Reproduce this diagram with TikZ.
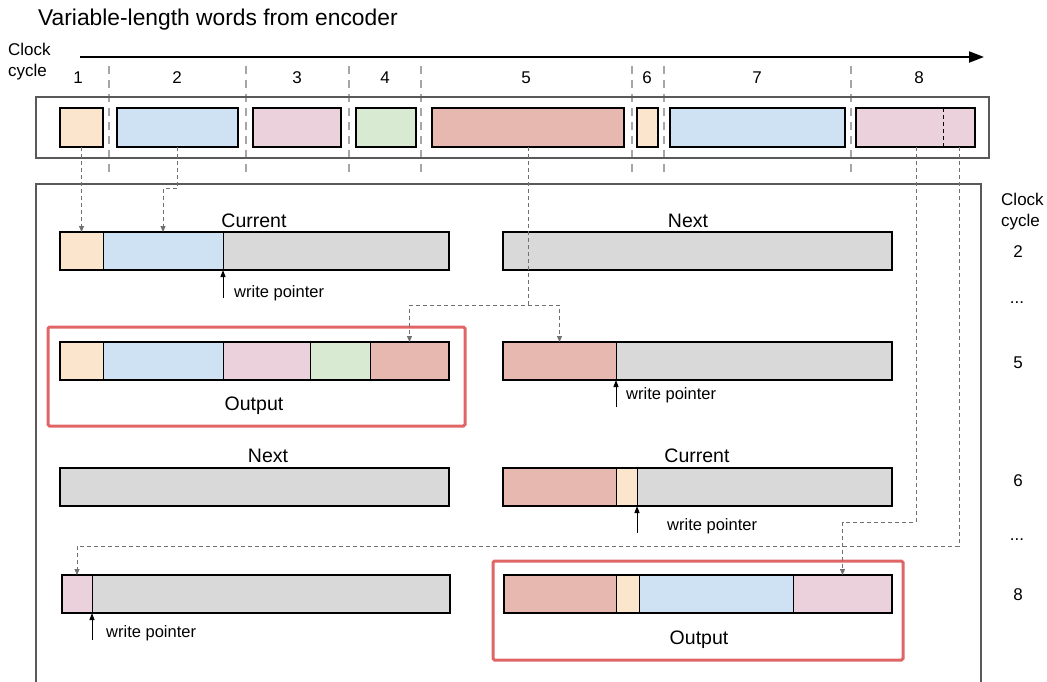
\documentclass[tikz,border=0pt]{standalone}
\usepackage{fontspec}
\setmainfont{Liberation Sans}
\usetikzlibrary{arrows.meta,calc}

\definecolor{cOrange}{HTML}{FCE5CD}
\definecolor{cBlue}{HTML}{CFE2F3}
\definecolor{cPink}{HTML}{EAD1DC}
\definecolor{cGreen}{HTML}{D9EAD3}
\definecolor{cRed}{HTML}{E6B8AF}
\definecolor{cGray}{HTML}{D9D9D9}
\definecolor{cFrame}{HTML}{595959}
\definecolor{cSep}{HTML}{A6A6A6}
\definecolor{cConn}{HTML}{707070}
\definecolor{cOut}{HTML}{E06666}

% word box of the input stream: name, x-left, x-right, fill
\newcommand\wordbox[4]{\node[word, fill=#4, minimum width={#3-#2}] (#1) at (#2,108) {};}
% buffer cell: name, x-left, x-right, y-top, fill
\newcommand\bufcell[5]{\node[cell, fill=#5, minimum width={#3-#2}] (#1) at (#2,#4) {};}
% thick outline over a whole buffer: name, x-left, x-right, y-top
\newcommand\bufframe[4]{\node[bframe, minimum width={#3-#2}] (#1) at (#2,#4) {};}

\begin{document}
\begin{tikzpicture}[x=1pt,y=-1pt,
  word/.style={draw=black, line width=2pt, inner sep=0, outer sep=0, minimum height=39, anchor=north west},
  cell/.style={draw=black, line width=1pt, inner sep=0, outer sep=0, minimum height=38, anchor=north west},
  bframe/.style={draw=black, line width=2pt, inner sep=0, outer sep=0, minimum height=38, anchor=north west},
  outframe/.style={draw=cOut, line width=3pt, rounded corners=1.5pt, inner sep=0, outer sep=0, anchor=north west},
  sep/.style={draw=cSep, line width=1.6pt, dash pattern=on 8pt off 6pt},
  conn/.style={draw=cConn, line width=1pt, dash pattern=on 4pt off 3pt, -{Triangle[length=6pt,width=5pt]}},
  ptr/.style={draw=black, line width=1pt, -{Triangle[length=7pt,width=5pt]}},
  title/.style={inner sep=0, font=\fontsize{22.8}{27}\selectfont, anchor=base west},
  small/.style={inner sep=0, font=\fontsize{17}{20}\selectfont},
  label/.style={inner sep=0, font=\fontsize{19.5}{23}\selectfont, anchor=base},
  wp/.style={inner sep=0, font=\fontsize{16.5}{19}\selectfont, anchor=base west},
]
\useasboundingbox (0,0) rectangle (1047,681);

% ---------- header ----------
\node[title] (ttl) at (38,25) {Variable-length words from encoder};
\node[small, anchor=base west] (clk1) at (8,55) {Clock};
\node[small, anchor=base west] (cyc1) at (8,76) {cycle};
\coordinate (tstart) at (80,57);
\coordinate (tend) at (984,57);
\draw[line width=2pt, -{Triangle[length=15pt,width=11pt]}] (tstart) -- (tend);

\foreach \n/\x in {1/78,2/177,3/297,4/385,5/526,6/647,7/757,8/919}
  \node[small, anchor=base] (cc\n) at (\x,83) {\n};

% cycle boundaries
\foreach \x in {109,246,349,421,632,664,851}
  \draw[sep] (\x,66) -- (\x,172);

% ---------- input stream ----------
\node[draw=cFrame, line width=2pt, inner sep=0, outer sep=0, anchor=north west,
      minimum width=953, minimum height=61] (stream) at (36,97) {};
\wordbox{w1}{60}{103}{cOrange}
\wordbox{w2}{117}{238}{cBlue}
\wordbox{w3}{253}{341}{cPink}
\wordbox{w4}{356}{416}{cGreen}
\wordbox{w5}{432}{624}{cRed}
\wordbox{w6}{637}{658}{cOrange}
\wordbox{w7}{670}{845}{cBlue}
\wordbox{w8}{856}{975}{cPink}
\draw[black, line width=1pt, dash pattern=on 4pt off 3pt] (943,108) -- (943,147);
\coordinate (w8a) at ($(w8.south west)+(60,0)$);
\coordinate (w8b) at ($(w8.south east)+(-16,0)$);

% ---------- buffer area ----------
\draw[draw=cFrame, line width=2pt] (36,690) -- (36,184) -- (981,184) -- (981,690);

\node[small, anchor=base west] (clk2) at (1001,205) {Clock};
\node[small, anchor=base west] (cyc2) at (1001,226) {cycle};
\node[small, anchor=base] (rc2) at (1018,257) {2};
\node[small, anchor=base] (rd1) at (1017,303) {...};
\node[small, anchor=base] (rc5) at (1018,368) {5};
\node[small, anchor=base] (rc6) at (1018,486) {6};
\node[small, anchor=base] (rd2) at (1017,540) {...};
\node[small, anchor=base] (rc8) at (1018,600) {8};

% row: cycle 2
\node[label] (cur1) at (254,227) {Current};
\node[label] (nxt1) at (688,227) {Next};
\bufcell{r1o}{60}{103}{232}{cOrange}
\bufcell{r1b}{103}{223}{232}{cBlue}
\bufcell{r1g}{223}{449}{232}{cGray}
\bufframe{r1L}{60}{449}{232}
\bufcell{r1R}{503}{892}{232}{cGray}
\bufframe{r1Rf}{503}{892}{232}
\coordinate (wp1) at (223,298);
\draw[ptr] (wp1) -- (r1b.south east);
\node[wp] (wpt1) at (234,297) {write pointer};

% row: cycle 5
\node[outframe, minimum width=417, minimum height=99] (out1) at (48,327) {};
\bufcell{r2o}{60}{103}{342}{cOrange}
\bufcell{r2b}{103}{223}{342}{cBlue}
\bufcell{r2p}{223}{310}{342}{cPink}
\bufcell{r2g}{310}{370}{342}{cGreen}
\bufcell{r2r}{370}{449}{342}{cRed}
\bufframe{r2L}{60}{449}{342}
\node[label] (outl1) at (254,410) {Output};
\bufcell{r2rr}{503}{616}{342}{cRed}
\bufcell{r2rg}{616}{892}{342}{cGray}
\bufframe{r2R}{503}{892}{342}
\coordinate (wp2) at (616,407);
\draw[ptr] (wp2) -- (r2rr.south east);
\node[wp] (wpt2) at (626,399) {write pointer};

% row: cycle 6
\node[label] (nxt3) at (268,462) {Next};
\node[label] (cur3) at (697,462) {Current};
\bufcell{r3L}{60}{449}{468}{cGray}
\bufframe{r3Lf}{60}{449}{468}
\bufcell{r3rr}{503}{616}{468}{cRed}
\bufcell{r3ro}{616}{637}{468}{cOrange}
\bufcell{r3rg}{637}{892}{468}{cGray}
\bufframe{r3R}{503}{892}{468}
\coordinate (wp3) at (637,533);
\draw[ptr] (wp3) -- (r3ro.south east);
\node[wp] (wpt3) at (667,530) {write pointer};

% row: cycle 8
\bufcell{r4p}{62}{92}{575}{cPink}
\bufcell{r4g}{92}{450}{575}{cGray}
\bufframe{r4L}{62}{450}{575}
\coordinate (wp4) at (92,640);
\draw[ptr] (wp4) -- (r4p.south east);
\node[wp] (wpt4) at (106,637) {write pointer};
\node[outframe, minimum width=410, minimum height=99] (out2) at (493,561) {};
\bufcell{r4rr}{504}{616}{575}{cRed}
\bufcell{r4ro}{616}{639}{575}{cOrange}
\bufcell{r4rb}{639}{793}{575}{cBlue}
\bufcell{r4rp}{793}{892}{575}{cPink}
\node[draw=black, line width=1.5pt, inner sep=0, outer sep=0, anchor=north west,
      minimum width=388, minimum height=38] (r4R) at (504,575) {};
\node[label] (outl2) at (699,644) {Output};

% ---------- word routing ----------
\draw[conn] (w1.south) -- (r1o.north);
\draw[conn] (w2.south) -- ++(0,41) -| (r1b.north);
\draw[conn] (w5.south) -- ++(0,158) coordinate (j5) -| (r2r.north);
\draw[conn] (j5) -| (r2rr.north);
\draw[conn] (w8a) -- ++(0,375) -| (r4rp.north);
\draw[conn] (w8b) -- ++(0,399) -| (r4p.north);
\end{tikzpicture}
\end{document}
